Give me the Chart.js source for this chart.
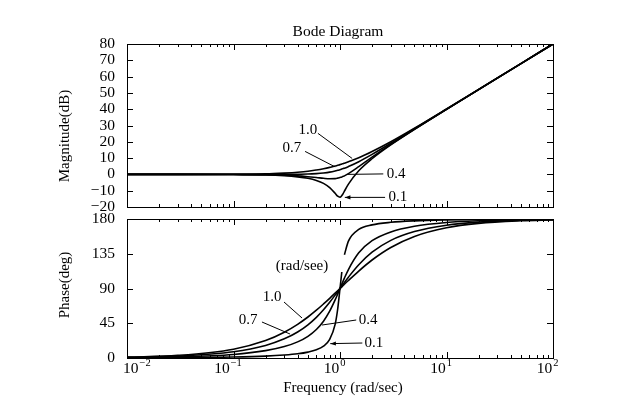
<!DOCTYPE html>
<html>
<head>
<meta charset="utf-8">
<script src="https://cdn.jsdelivr.net/npm/chart.js@4.4.1/dist/chart.umd.min.js"></script>
<style>
  html, body { margin: 0; padding: 0; background: #fff; }
  #wrap { position: relative; width: 632px; height: 414px; }
  #wrap canvas { position: absolute; left: 0; top: 0; }
</style>
</head>
<body>
<div id="wrap">
  <canvas id="mag" width="632" height="414"></canvas>
  <canvas id="phase" width="632" height="414"></canvas>
</div>
<script>
// Frecuencias (rad/s)
const freq = [0.01, 0.03, 0.1, 0.2, 0.3, 0.4, 0.5, 0.6, 0.7, 0.8, 0.9, 0.95, 1.0, 1.04, 1.07, 1.1, 1.2, 1.5, 2, 3, 5, 10, 20, 50, 100];

// Magnitud (dB) para cada zeta
const magZeta01 = [0, 0, -0.1, -0.3, -0.8, -1.5, -2.4, -3.7, -5.5, -8.1, -11.6, -13.4, -14.0, -13.0, -11.8, -10.3, -6.0, 2.2, 9.6, 18.1, 27.6, 39.9, 52.0, 68.0, 80.0];
const magZeta04 = [0, 0, -0.1, -0.2, -0.5, -0.9, -1.4, -1.9, -2.4, -2.7, -2.6, -2.3, -1.9, -1.6, -1.2, -0.9, 0.5, 4.8, 10.6, 18.4, 27.7, 39.9, 52.0, 68.0, 80.0];
const magZeta07 = [0, 0, 0, 0, 0, 0.1, 0.2, 0.5, 0.9, 1.4, 2.1, 2.5, 2.9, 3.3, 3.6, 3.8, 4.8, 7.8, 12.3, 19.1, 28.0, 40.0, 52.0, 68.0, 80.0];
const magZeta10 = [0, 0, 0.1, 0.3, 0.8, 1.3, 1.9, 2.7, 3.5, 4.3, 5.1, 5.6, 6.0, 6.4, 6.6, 6.9, 7.8, 10.2, 14.0, 20.0, 28.3, 40.1, 52.1, 68.0, 80.0];

// Fase (grados) para cada zeta (null = hueco en la curva 0.1)
const phaseZeta01 = [0.1, 0.3, 1.2, 2.4, 3.8, 5.4, 7.6, 10.6, 15.4, 24.0, 43.5, 62.8, 90, 111.4, null, 133.7, 151.4, 166.5, 172.4, 175.7, 177.6, 178.8, 179.4, 179.8, 179.9];
const phaseZeta04 = [0.5, 1.4, 4.6, 9.5, 14.8, 20.9, 28.1, 36.9, 47.7, 60.6, 75.2, 82.7, 90, 95.6, 99.6, 103.4, 114.6, 136.2, 151.9, 163.3, 170.5, 175.4, 177.7, 179.1, 179.5];
const phaseZeta07 = [0.8, 2.4, 8.1, 16.3, 24.8, 33.7, 43.0, 52.7, 62.5, 72.2, 81.4, 85.8, 90, 93.2, 95.5, 97.8, 104.7, 120.8, 137.0, 152.3, 163.7, 172.0, 176.0, 178.4, 179.2];
const phaseZeta10 = [1.1, 3.4, 11.4, 22.6, 33.4, 43.6, 53.1, 61.9, 70.0, 77.3, 84.0, 87.1, 90, 92.2, 93.9, 95.5, 100.4, 112.6, 126.9, 143.1, 157.4, 168.6, 174.3, 177.7, 178.9];

// Marcas de los ejes
const magTicks = [-20, -10, 0, 10, 20, 30, 40, 50, 60, 70, 80];
const phaseTicks = [0, 45, 90, 135, 180];
const xTickPowers = [-2, -1, 0, 1, 2];
const xTickExponents = ['\u22122', '\u22121', '0', '1', '2'];

const FONT = '"Liberation Serif", "Times New Roman", serif';

// Convierte una serie en puntos {x, y}
function toPoints(values) {
    return freq.map((f, i) => ({ x: f, y: values[i] }));
}

function lineSet(values) {
    return {
        data: toPoints(values),
        borderColor: '#000',
        borderWidth: 1.6,
        pointRadius: 0,
        fill: false,
        spanGaps: false,
        cubicInterpolationMode: 'monotone'
    };
}

function drawArrowHead(ctx, x1, y1, x2, y2) {
    const ang = Math.atan2(y2 - y1, x2 - x1);
    const len = 6;
    ctx.beginPath();
    ctx.moveTo(x2, y2);
    ctx.lineTo(x2 - len * Math.cos(ang - 0.35), y2 - len * Math.sin(ang - 0.35));
    ctx.lineTo(x2 - len * Math.cos(ang + 0.35), y2 - len * Math.sin(ang + 0.35));
    ctx.closePath();
    ctx.fill();
}

// Plugin: marco, marcas hacia dentro, anotaciones y textos
function makeFrame(yTicks, notes, extra) {
    return {
        id: 'frame',
        afterDatasetsDraw(chart) {
            const ctx = chart.ctx;
            const a = chart.chartArea;
            const xs = chart.scales.x;
            const ys = chart.scales.y;
            ctx.save();
            ctx.strokeStyle = '#000';
            ctx.fillStyle = '#000';
            ctx.lineWidth = 1;
            ctx.strokeRect(a.left + 0.5, a.top + 0.5, a.right - a.left, a.bottom - a.top);

            ctx.beginPath();
            for (let p = -2; p <= 2; p++) {
                for (let k = 1; k < 10; k++) {
                    const v = k * Math.pow(10, p);
                    if (v > 100) break;
                    const px = Math.round(xs.getPixelForValue(v)) + 0.5;
                    const len = k === 1 ? 6 : 3;
                    ctx.moveTo(px, a.top); ctx.lineTo(px, a.top + len);
                    ctx.moveTo(px, a.bottom); ctx.lineTo(px, a.bottom - len);
                }
            }
            yTicks.forEach(v => {
                const py = Math.round(ys.getPixelForValue(v)) + 0.5;
                ctx.moveTo(a.left, py); ctx.lineTo(a.left + 6, py);
                ctx.moveTo(a.right, py); ctx.lineTo(a.right - 6, py);
            });
            ctx.stroke();

            // Anotaciones en coordenadas de datos
            ctx.font = '15px ' + FONT;
            ctx.textBaseline = 'middle';
            notes.forEach(n => {
                ctx.textAlign = n.align || 'center';
                ctx.fillText(n.text, xs.getPixelForValue(n.at[0]), ys.getPixelForValue(n.at[1]));
                if (n.from) {
                    const x1 = xs.getPixelForValue(n.from[0]), y1 = ys.getPixelForValue(n.from[1]);
                    const x2 = xs.getPixelForValue(n.to[0]), y2 = ys.getPixelForValue(n.to[1]);
                    ctx.beginPath();
                    ctx.moveTo(x1, y1);
                    ctx.lineTo(x2, y2);
                    ctx.stroke();
                    if (n.arrow) drawArrowHead(ctx, x1, y1, x2, y2);
                }
            });

            if (extra) extra(chart, ctx, a, xs, ys);
            ctx.restore();
        }
    };
}

function yAxis(min, max, step, ticks) {
    return {
        type: 'linear',
        min: min,
        max: max,
        afterFit(scale) { scale.width = 127; },
        afterBuildTicks(scale) { scale.ticks = ticks.map(v => ({ value: v })); },
        grid: { display: false },
        border: { display: false },
        ticks: {
            stepSize: step,
            autoSkip: false,
            padding: 4,
            color: '#000',
            font: { family: FONT, size: 15.5 },
            callback: v => v < 0 ? '\u2212' + Math.abs(v) : String(v)
        }
    };
}

// Gráfico de magnitud
const magNotes = [
    { text: '1.0', at: [0.50, 27], from: [0.62, 25.2], to: [1.30, 9.8] },
    { text: '0.7', at: [0.354, 16], from: [0.47, 14.1], to: [0.90, 4.6] },
    { text: '0.4', at: [2.75, 0], align: 'left', from: [2.55, 0.3], to: [1.16, 0] },
    { text: '0.1', at: [2.85, -14.1], align: 'left', from: [2.65, -14.1], to: [1.11, -14.1], arrow: true }
];

new Chart(document.getElementById('mag'), {
    type: 'line',
    data: { datasets: [lineSet(magZeta01), lineSet(magZeta04), lineSet(magZeta07), lineSet(magZeta10)] },
    options: {
        responsive: false,
        animation: false,
        devicePixelRatio: 1,
        layout: { padding: { top: 44, right: 79, bottom: 207, left: 0 } },
        plugins: { legend: { display: false }, tooltip: { enabled: false } },
        scales: {
            x: { type: 'logarithmic', min: 0.01, max: 100, display: false },
            y: yAxis(-20, 80, 10, magTicks)
        }
    },
    plugins: [makeFrame(magTicks, magNotes, (chart, ctx, a) => {
        ctx.font = '15.5px ' + FONT;
        ctx.textAlign = 'center';
        ctx.textBaseline = 'middle';
        ctx.fillText('Bode Diagram', (a.left + a.right) / 2 - 2, 32);
        ctx.font = '15px ' + FONT;
        ctx.save();
        ctx.translate(a.left - 62, 136);
        ctx.rotate(-Math.PI / 2);
        ctx.fillText('Magnitude(dB)', 0, 0);
        ctx.restore();
    })]
});

// Gráfico de fase
const phaseNotes = [
    { text: '(rad/see)', at: [0.44, 119] },
    { text: '1.0', at: [0.23, 79], from: [0.298, 72.5], to: [0.44, 51.8] },
    { text: '0.7', at: [0.137, 49], from: [0.185, 46.6], to: [0.34, 31] },
    { text: '0.4', at: [1.5, 48.5], align: 'left', from: [1.42, 49.2], to: [0.678, 42.7] },
    { text: '0.1', at: [1.7, 19.4], align: 'left', from: [1.62, 19.4], to: [0.81, 18.6], arrow: true }
];

new Chart(document.getElementById('phase'), {
    type: 'line',
    data: { datasets: [lineSet(phaseZeta01), lineSet(phaseZeta04), lineSet(phaseZeta07), lineSet(phaseZeta10)] },
    options: {
        responsive: false,
        animation: false,
        devicePixelRatio: 1,
        layout: { padding: { top: 219, right: 79, bottom: 0, left: 0 } },
        plugins: { legend: { display: false }, tooltip: { enabled: false } },
        scales: {
            x: {
                type: 'logarithmic',
                min: 0.01,
                max: 100,
                afterFit(scale) { scale.height = 56; },
                grid: { display: false },
                border: { display: false },
                ticks: { display: false }
            },
            y: yAxis(0, 180, 45, phaseTicks)
        }
    },
    plugins: [makeFrame(phaseTicks, phaseNotes, (chart, ctx, a, xs) => {
        // Etiquetas 10^n del eje x
        ctx.textAlign = 'left';
        ctx.textBaseline = 'alphabetic';
        xTickPowers.forEach((p, i) => {
            const px = xs.getPixelForValue(Math.pow(10, p));
            ctx.font = '15.5px ' + FONT;
            const wBase = ctx.measureText('10').width;
            ctx.font = '10.5px ' + FONT;
            const wExp = ctx.measureText(xTickExponents[i]).width;
            let left = px - 6 - (wBase + wExp) / 2;
            left = Math.max(left, a.left - 4);
            ctx.font = '15.5px ' + FONT;
            ctx.fillText('10', left, a.bottom + 15);
            ctx.font = '10.5px ' + FONT;
            ctx.fillText(xTickExponents[i], left + wBase + 1, a.bottom + 8);
        });
        ctx.font = '15px ' + FONT;
        ctx.textAlign = 'center';
        ctx.textBaseline = 'middle';
        ctx.fillText('Frequency (rad/sec)', (a.left + a.right) / 2 + 3, 388);
        ctx.save();
        ctx.translate(a.left - 62, 285);
        ctx.rotate(-Math.PI / 2);
        ctx.fillText('Phase(deg)', 0, 0);
        ctx.restore();
    })]
});
</script>
</body>
</html>
